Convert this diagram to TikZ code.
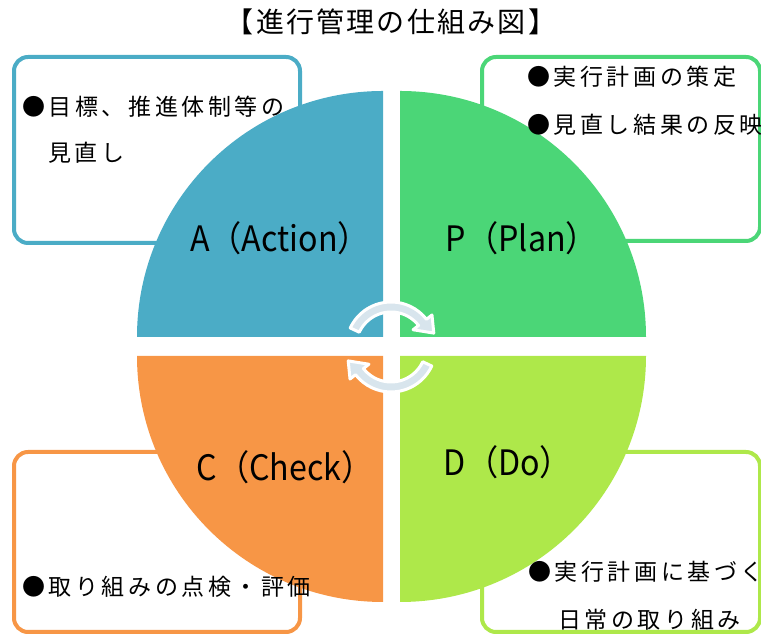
\documentclass[tikz,border=0pt]{standalone}
\usepackage{graphicx}
\usepackage{fontspec}
\setmainfont{Noto Sans CJK JP}
\newfontfamily\jpbody[LetterSpace=15.5]{Noto Sans CJK JP}
\newfontfamily\jptitle[LetterSpace=8]{Noto Sans CJK JP}
\newfontfamily\jplabel{Noto Sans CJK JP}
\definecolor{cA}{HTML}{4BACC6}
\definecolor{cP}{HTML}{4BD677}
\definecolor{cC}{HTML}{F79646}
\definecolor{cD}{HTML}{AEE84A}
\definecolor{arrfill}{HTML}{D8E5ED}
\tikzset{
  box/.style={line width=4pt, rounded corners=14pt, fill=white},
  bodytxt/.style={anchor=west, inner sep=0pt, font=\jpbody\fontsize{23}{23}\selectfont},
  lbl/.style={inner sep=0pt, font=\jplabel\fontsize{35}{35}\selectfont},
  cyc/.style={fill=arrfill, draw=white, line width=3pt, line join=round},
}
\newcommand{\narrow}[1]{\scalebox{0.92}[1]{#1}}
\begin{document}
\begin{tikzpicture}[x=1pt,y=1pt]
\useasboundingbox (0,0) rectangle (761,636);
% boxes
\draw[box, draw=cA] (14,579) rectangle (300,393);
\draw[box, draw=cP] (482,579) rectangle (760,395);
\draw[box, draw=cC] (14,184) rectangle (300,4);
\draw[box, draw=cD] (482,184) rectangle (760,4);
% quarters
\fill[cA] (383,299) -- (137,299) arc (180:90:246) -- cycle;
\fill[cP] (400,299) -- (400,545) arc (90:0:246) -- cycle;
\fill[cC] (383,280) -- (383,34) arc (270:180:246) -- cycle;
\fill[cD] (400,280) -- (646,280) arc (0:-90:246) -- cycle;
% cycle arrows
\begin{scope}[shift={(391,289)}]
\filldraw[cyc] (155:45) arc (155:38:45) -- (38:52) -- (18:45) -- (38:28) -- (38:35) arc (38:155:35) -- cycle;
\filldraw[cyc] (-25:45) arc (-25:-142:45) -- (-142:52) -- (-162:45) -- (-142:28) -- (-142:35) arc (-142:-25:35) -- cycle;
\end{scope}
% title
\node[inner sep=0pt, font=\jptitle\fontsize{28}{28}\selectfont] (title) at (391,614) {【進行管理の仕組み図】};
% labels
\node[lbl] (la) at (280,398) {\narrow{A（Action）}};
\node[lbl] (lp) at (522,398) {\narrow{P（Plan）}};
\node[lbl] (lc) at (285,169) {\narrow{C（Check）}};
\node[lbl] (ld) at (508,174) {\narrow{D（Do）}};
% texts
\node[bodytxt] (ta1) at (22,529) {●目標、推進体制等の};
\node[bodytxt] (ta2) at (48,483) {見直し};
\node[bodytxt] (tp1) at (527,559) {●実行計画の策定};
\node[bodytxt] (tp2) at (527,511) {●見直し結果の反映};
\node[bodytxt] (tc1) at (22,49) {●取り組みの点検・評価};
\node[bodytxt] (td1) at (528,64) {●実行計画に基づく};
\node[bodytxt] (td2) at (558,16) {日常の取り組み};
\end{tikzpicture}
\end{document}
